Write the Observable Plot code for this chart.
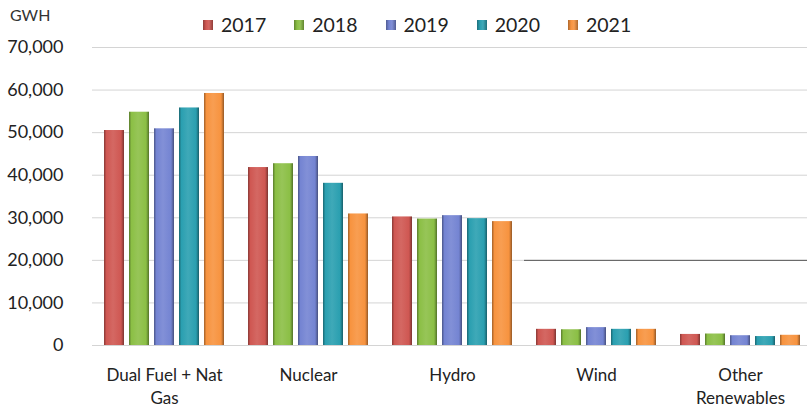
<!DOCTYPE html>
<html>
<head>
<meta charset="utf-8">
<script src="https://cdn.jsdelivr.net/npm/d3@7"></script>
<script src="https://cdn.jsdelivr.net/npm/@observablehq/plot@0.6"></script>
<style>
  body { margin: 0; background: #fff; font-family: Lato, "Open Sans", sans-serif; }
  #wrap { position: relative; width: 807px; height: 408px; overflow: hidden; }
  #head { position: relative; height: 36px; }
  #unit { position: absolute; left: 10px; top: 5px; font-size: 16px; color: #333; }
  #legend { position: absolute; left: 203px; top: 13px; display: flex; font-size: 19.5px; color: #222; line-height: 24px; }
  .item { display: flex; align-items: center; margin-right: 28px; }
  .sw { width: 10px; height: 10px; margin-right: 8px; }
</style>
</head>
<body>
<div id="wrap">
  <div id="head"><div id="unit">GWH</div><div id="legend"></div></div>
  <div id="chart"></div>
</div>
<script>
const fuels = ["Dual Fuel + Nat Gas", "Nuclear", "Hydro", "Wind", "Other Renewables"];
const fuelLabels = ["Dual Fuel + Nat\nGas", "Nuclear", "Hydro", "Wind", "Other\nRenewables"];
const years = ["2017", "2018", "2019", "2020", "2021"];
const colors = ["#cf5752", "#8bbf45", "#7484d2", "#2a9fb0", "#f7933f"];
const v2017 = [50500, 41800, 30200, 3800, 2600];
const v2018 = [54800, 42700, 29700, 3700, 2700];
const v2019 = [50900, 44400, 30500, 4200, 2300];
const v2020 = [55800, 38100, 29800, 3800, 2100];
const v2021 = [59200, 30900, 29100, 3800, 2400];
const yTicks = [0, 10000, 20000, 30000, 40000, 50000, 60000, 70000];
const refLine = [{fuel: "Wind", value: 20000}, {fuel: "Other Renewables", value: 20000}];

const series = [v2017, v2018, v2019, v2020, v2021];
const data = [];
fuels.forEach((f, i) => years.forEach((y, j) => data.push({fuel: f, year: y, value: series[j][i]})));

function shade(c, k) {
  return k > 0 ? d3.interpolateRgb(c, "#ffffff")(k) : d3.interpolateRgb(c, "#000000")(-k);
}

const chart = Plot.plot({
  width: 807,
  height: 372,
  marginTop: 11,
  marginBottom: 63,
  marginLeft: 92,
  marginRight: -5,
  style: {fontFamily: "Lato, 'Open Sans', sans-serif", fontSize: "17px", color: "#222", background: "transparent"},
  fx: {domain: fuels, padding: 0, label: null},
  x: {domain: years, paddingInner: 0.19, paddingOuter: 0.37, axis: null},
  y: {domain: [0, 70000], label: null},
  color: {domain: years, range: years.map(y => `url(#grad${y})`)},
  marks: [
    Plot.gridY(yTicks, {stroke: "#d4d4d4", strokeOpacity: 1}),
    Plot.axisY(yTicks, {tickSize: 0, tickPadding: 29, tickFormat: d3.format(","), label: null, fontSize: 18}),
    Plot.axisFx({anchor: "bottom", tickSize: 0, tickPadding: 19, tickFormat: d => fuelLabels[fuels.indexOf(d)], lineHeight: 1.35, fontSize: 17, label: null}),
    Plot.ruleY(refLine, {fx: "fuel", y: "value", stroke: "#555", strokeWidth: 1}),
    Plot.barY(data, {fx: "fuel", x: "year", y: "value", fill: "year"})
  ]
});

const ns = "http://www.w3.org/2000/svg";
const defs = document.createElementNS(ns, "defs");
years.forEach((y, i) => {
  const g = document.createElementNS(ns, "linearGradient");
  g.setAttribute("id", "grad" + y);
  g.setAttribute("x1", "0"); g.setAttribute("x2", "1"); g.setAttribute("y1", "0"); g.setAttribute("y2", "0");
  [[0, shade(colors[i], -0.35)], [0.12, colors[i]], [0.45, shade(colors[i], 0.1)], [0.85, colors[i]], [1, shade(colors[i], -0.4)]].forEach(([o, c]) => {
    const s = document.createElementNS(ns, "stop");
    s.setAttribute("offset", o);
    s.setAttribute("stop-color", c);
    g.appendChild(s);
  });
  defs.appendChild(g);
});
chart.insertBefore(defs, chart.firstChild);
document.getElementById("chart").appendChild(chart);

const leg = document.getElementById("legend");
years.forEach((y, i) => {
  const it = document.createElement("div");
  it.className = "item";
  const sw = document.createElement("div");
  sw.className = "sw";
  sw.style.background = `linear-gradient(90deg, ${shade(colors[i], -0.3)}, ${colors[i]} 30%, ${shade(colors[i], 0.1)} 60%, ${shade(colors[i], -0.3)})`;
  const t = document.createElement("span");
  t.textContent = y;
  it.appendChild(sw); it.appendChild(t);
  leg.appendChild(it);
});
</script>
</body>
</html>
